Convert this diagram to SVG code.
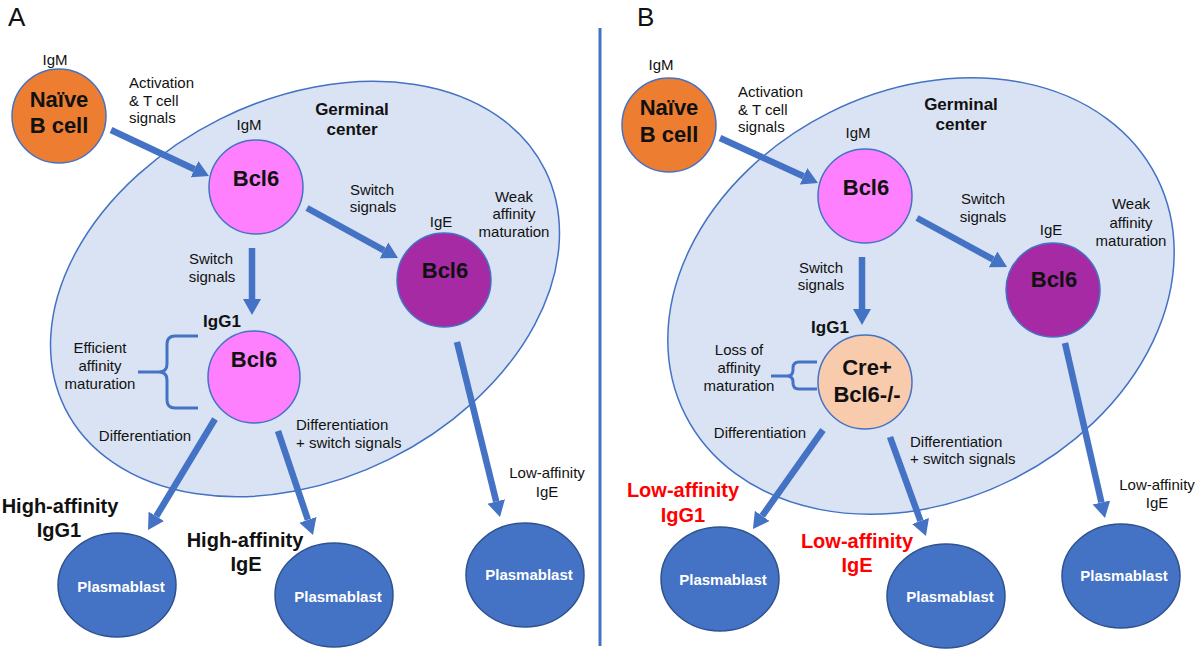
<svg xmlns="http://www.w3.org/2000/svg" width="1200" height="649" viewBox="0 0 1200 649">
<defs>
<marker id="ah" markerUnits="userSpaceOnUse" markerWidth="18" markerHeight="20" viewBox="0 -10 18 20" refX="0" refY="0" orient="auto">
<path d="M0,-9 L16,0 L0,9 z" fill="#4472C4"/>
</marker>
<style>
text{font-family:"Liberation Sans",Arial,sans-serif;fill:#111;}
.s{font-size:15px;text-anchor:middle;}
.st{font-size:15px;}
.b{font-size:22px;font-weight:bold;text-anchor:middle;}
.gc{font-size:17px;font-weight:bold;text-anchor:middle;}
.ig{font-size:17px;font-weight:bold;text-anchor:middle;}
.hi{font-size:20px;font-weight:bold;text-anchor:middle;}
.red{fill:#FF0000;}
.pl{font-size:15px;font-weight:bold;text-anchor:middle;fill:#fff;}
.panel{font-size:26px;}
.gcell{fill:#DAE3F3;stroke:#4472C4;stroke-width:1.5;}
.naive{fill:#ED7D31;stroke:#4472C4;stroke-width:1.5;}
.pink{fill:#FF80FF;stroke:#4472C4;stroke-width:1.5;}
.purple{fill:#A62AA4;stroke:#4472C4;stroke-width:1.5;}
.cre{fill:#F8CBAD;stroke:#4472C4;stroke-width:1.5;}
.pb{fill:#4472C4;stroke:#2F528F;stroke-width:1.5;}
.arr{stroke:#4472C4;stroke-width:6.5;fill:none;marker-end:url(#ah);}
.br{stroke:#4472C4;stroke-width:3;fill:none;}
</style>
</defs>
<rect width="1200" height="649" fill="#fff"/>

<!-- Panel A -->
<text class="panel" x="8" y="26">A</text>
<g id="gcA"><ellipse class="gcell" cx="305" cy="289" rx="268" ry="190" transform="rotate(-26.4 305 289)"/>
<text class="gc" x="352" y="115">Germinal</text><text class="gc" x="352" y="135">center</text></g>

<g id="naiveA"><text class="s" x="55" y="65">IgM</text>
<circle class="naive" cx="59" cy="116" r="47"/>
<text class="b" x="59" y="107">Naïve</text><text class="b" x="59" y="133">B cell</text></g>

<g id="bcl6A"><text class="s" x="249" y="130">IgM</text>
<circle class="pink" cx="256" cy="187" r="47"/>
<text class="b" x="256" y="186">Bcl6</text></g>

<g id="igeA"><text class="s" x="441" y="227">IgE</text>
<circle class="purple" cx="444" cy="280" r="47"/>
<text class="b" x="445" y="278">Bcl6</text>
<text class="s" x="514" y="202">Weak</text><text class="s" x="514" y="219">affinity</text><text class="s" x="514" y="237">maturation</text></g>

<g id="igg1A"><text class="ig" x="222" y="327">IgG1</text>
<circle class="pink" cx="254" cy="377" r="46"/>
<text class="b" x="254" y="367">Bcl6</text>
<path class="br" d="M198,336 H175 Q167,336 167,344 V364 Q167,372 159,372 H138 M159,372 Q167,372 167,380 V400 Q167,408 175,408 H198"/>
<text class="s" x="100" y="353">Efficient</text><text class="s" x="100" y="371">affinity</text><text class="s" x="100" y="389">maturation</text></g>

<g id="pb1A"><ellipse class="pb" cx="117" cy="585" rx="59" ry="52"/><text class="pl" x="121" y="592">Plasmablast</text>
<text class="hi" x="60" y="513">High-affinity</text><text class="hi" x="59" y="537">IgG1</text></g>
<g id="pb2A"><ellipse class="pb" cx="334" cy="595" rx="59" ry="52"/><text class="pl" x="338" y="602">Plasmablast</text>
<text class="hi" x="245" y="547">High-affinity</text><text class="hi" x="246" y="571">IgE</text></g>
<g id="pb3A"><ellipse class="pb" cx="525" cy="575" rx="59" ry="52"/><text class="pl" x="529" y="580">Plasmablast</text>
<text class="s" x="547" y="478">Low-affinity</text><text class="s" x="547" y="497">IgE</text></g>

<!-- divider -->
<line x1="600" y1="28" x2="600" y2="646" stroke="#4472C4" stroke-width="3"/>

<!-- Panel B -->
<text class="panel" x="637" y="26">B</text>
<g id="gcB"><ellipse class="gcell" cx="921" cy="296" rx="264" ry="205" transform="rotate(-26.7 921 296)"/>
<text class="gc" x="961" y="110">Germinal</text><text class="gc" x="961" y="130">center</text></g>

<g id="naiveB"><text class="s" x="661" y="70">IgM</text>
<circle class="naive" cx="669" cy="125" r="47"/>
<text class="b" x="669" y="115">Naïve</text><text class="b" x="669" y="142">B cell</text></g>

<g id="bcl6B"><text class="s" x="858" y="138">IgM</text>
<circle class="pink" cx="865" cy="196" r="47"/>
<text class="b" x="866" y="195">Bcl6</text></g>

<g id="igeB"><text class="s" x="1051" y="235">IgE</text>
<circle class="purple" cx="1053" cy="290" r="47"/>
<text class="b" x="1054" y="287">Bcl6</text>
<text class="s" x="1131" y="209">Weak</text><text class="s" x="1131" y="228">affinity</text><text class="s" x="1131" y="246">maturation</text></g>

<g id="creB"><text class="ig" x="830" y="333">IgG1</text>
<circle class="cre" cx="865" cy="382" r="47"/>
<text class="b" x="867" y="375">Cre+</text><text class="b" x="867" y="402">Bcl6-/-</text>
<path class="br" d="M817,362 H799 Q793,362 793,368 V370 Q793,376 787,376 H771 M787,376 Q793,376 793,382 V383 Q793,389 799,389 H817"/>
<text class="s" x="739" y="355">Loss of</text><text class="s" x="739" y="373">affinity</text><text class="s" x="739" y="391">maturation</text></g>

<g id="pb1B"><ellipse class="pb" cx="720" cy="579" rx="59" ry="52"/><text class="pl" x="723" y="585">Plasmablast</text>
<text class="hi red" x="683" y="497">Low-affinity</text><text class="hi red" x="683" y="522">IgG1</text></g>
<g id="pb2B"><ellipse class="pb" cx="946" cy="596" rx="59" ry="52"/><text class="pl" x="950" y="602">Plasmablast</text>
<text class="hi red" x="857" y="548">Low-affinity</text><text class="hi red" x="857" y="572">IgE</text></g>
<g id="pb3B"><ellipse class="pb" cx="1121" cy="576" rx="59" ry="52"/><text class="pl" x="1124" y="581">Plasmablast</text>
<text class="s" x="1157" y="490">Low-affinity</text><text class="s" x="1157" y="508">IgE</text></g>

<!-- connectors -->
<g id="connectors">
<line class="arr" x1="111" y1="130" x2="194.5" y2="169.2"/>
<line class="arr" x1="252" y1="248" x2="252" y2="299"/>
<line class="arr" x1="307" y1="208" x2="384" y2="250.3"/>
<line class="arr" x1="215" y1="419" x2="156.3" y2="516.3"/>
<line class="arr" x1="278" y1="431" x2="307.9" y2="519.8"/>
<line class="arr" x1="457" y1="342" x2="496.2" y2="501.5"/>
<line class="arr" x1="720" y1="138" x2="803.5" y2="176.3"/>
<line class="arr" x1="862" y1="257" x2="862" y2="309"/>
<line class="arr" x1="917" y1="218" x2="993" y2="259.4"/>
<line class="arr" x1="823" y1="430" x2="762.2" y2="515.9"/>
<line class="arr" x1="890" y1="437" x2="920.5" y2="521"/>
<line class="arr" x1="1065" y1="343" x2="1101.4" y2="502.4"/>
</g>
<g id="labels">
<text class="st" x="129" y="88">Activation</text><text class="st" x="129" y="106">&amp; T cell</text><text class="st" x="129" y="123">signals</text>
<text class="s" x="372" y="195">Switch</text><text class="s" x="373" y="212">signals</text>
<text class="s" x="211" y="264">Switch</text><text class="s" x="212" y="282">signals</text>
<text class="s" x="145" y="441">Differentiation</text>
<text class="st" x="296" y="430">Differentiation</text><text class="st" x="296" y="448">+ switch signals</text>
<text class="st" x="738" y="97">Activation</text><text class="st" x="738" y="115">&amp; T cell</text><text class="st" x="738" y="132">signals</text>
<text class="s" x="983" y="204">Switch</text><text class="s" x="983" y="222">signals</text>
<text class="s" x="821" y="273">Switch</text><text class="s" x="821" y="290">signals</text>
<text class="s" x="760" y="438">Differentiation</text>
<text class="st" x="910" y="447">Differentiation</text><text class="st" x="910" y="464">+ switch signals</text>
</g>
</svg>
